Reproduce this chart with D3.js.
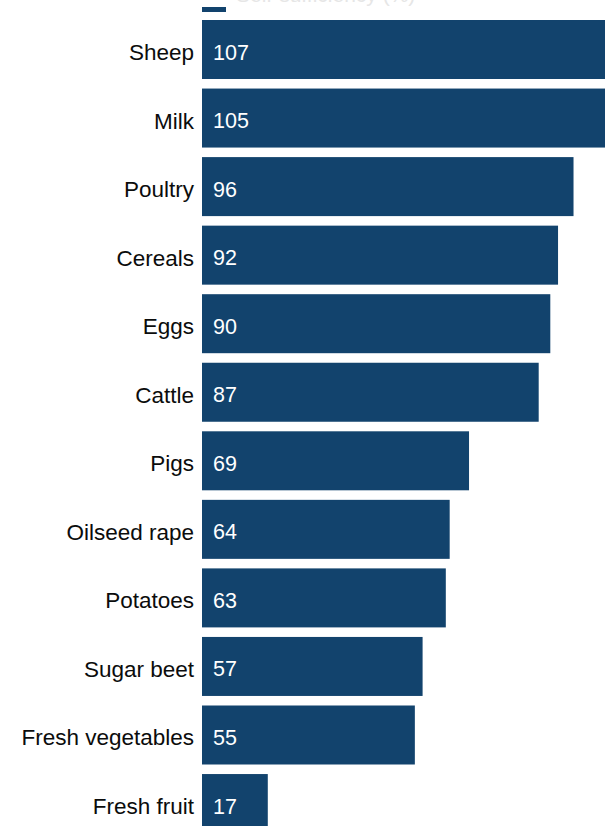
<!DOCTYPE html>
<html>
<head>
<meta charset="utf-8">
<script src="https://cdn.jsdelivr.net/npm/d3@7"></script>
<style>
  html, body { margin: 0; padding: 0; background: #fff; overflow: hidden; }
  svg { display: block; }
</style>
</head>
<body>
<svg id="chart" width="605" height="826"></svg>
<script>
const categories = ["Sheep", "Milk", "Poultry", "Cereals", "Eggs", "Cattle", "Pigs", "Oilseed rape", "Potatoes", "Sugar beet", "Fresh vegetables", "Fresh fruit"];
const values = [107, 105, 96, 92, 90, 87, 69, 64, 63, 57, 55, 17];
const legendLabel = "Self-sufficiency (%)";

const svg = d3.select("#chart");
const font = "'Liberation Sans', Arial, sans-serif";

const x = d3.scaleLinear().domain([0, 100]).range([202, 589]);
const y = d3.scaleBand().domain(categories).range([20, 833.05]).paddingInner(0.1393).paddingOuter(0);

// legend (cut at top)
svg.append("rect").attr("x", 202).attr("y", 7).attr("width", 24).attr("height", 5).attr("fill", "#12436d");
svg.append("text").attr("x", 236).attr("y", 2).attr("font-family", font).attr("font-size", 21)
  .attr("fill", "#e6e6e6").text(legendLabel);

const data = categories.map((c, i) => ({ c, v: values[i] }));

svg.selectAll("rect.bar").data(data).join("rect")
  .attr("class", "bar")
  .attr("x", x(0))
  .attr("y", d => y(d.c))
  .attr("width", d => x(d.v) - x(0))
  .attr("height", y.bandwidth())
  .attr("fill", "#12436d");

svg.selectAll("text.cat").data(data).join("text")
  .attr("class", "cat")
  .attr("x", 194)
  .attr("y", d => y(d.c) + y.bandwidth() / 2 + 10.5)
  .attr("text-anchor", "end")
  .attr("font-family", font)
  .attr("font-size", 22.5)
  .attr("fill", "#0b0c0c")
  .text(d => d.c);

svg.selectAll("text.val").data(data).join("text")
  .attr("class", "val")
  .attr("x", x(0) + 11)
  .attr("y", d => y(d.c) + y.bandwidth() / 2 + 10)
  .attr("font-family", font)
  .attr("font-size", 21.5)
  .attr("fill", "#ffffff")
  .text(d => d.v);
</script>
</body>
</html>
